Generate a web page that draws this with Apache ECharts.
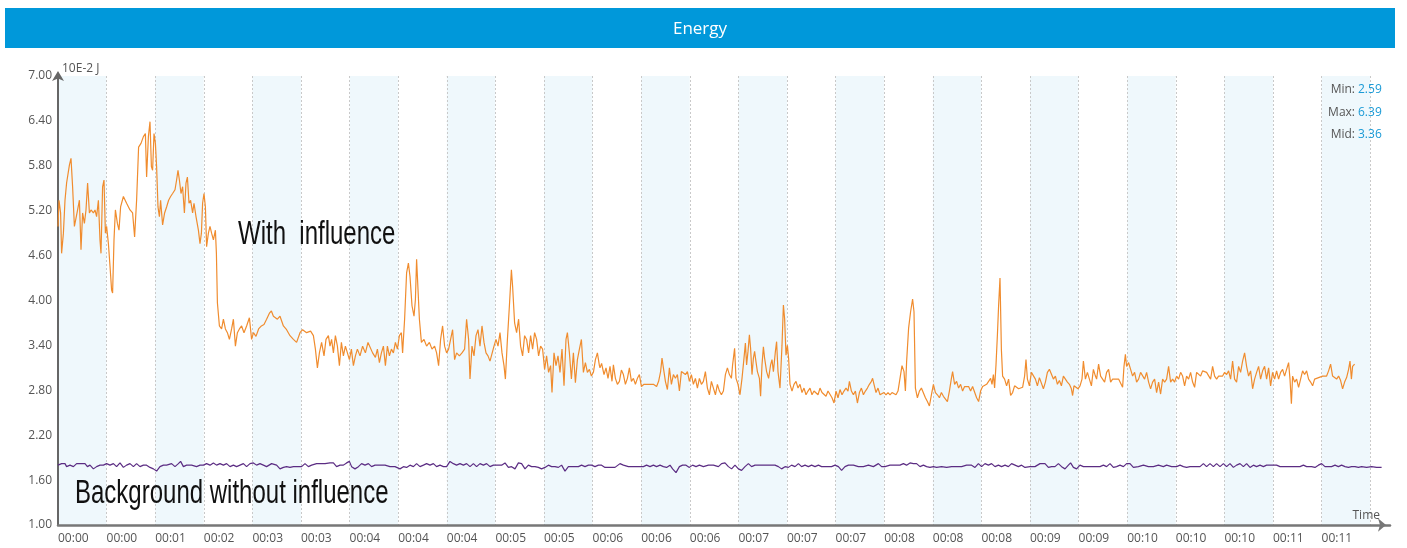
<!DOCTYPE html>
<html>
<head>
<meta charset="utf-8">
<title>Energy</title>
<script src="https://cdn.jsdelivr.net/npm/echarts@6/dist/echarts.min.js"></script>
<style>
  html, body { margin: 0; padding: 0; background: #fff; }
  #chart { width: 1407px; height: 548px; }
</style>
</head>
<body>
<div id="chart"></div>
<script>
// x = seconds from start, one label per band
const timeLabels = ['00:00', '00:00', '00:01', '00:02', '00:03', '00:03', '00:04', '00:04', '00:04',
  '00:05', '00:05', '00:06', '00:06', '00:06', '00:07', '00:07', '00:07', '00:08', '00:08', '00:08',
  '00:09', '00:09', '00:10', '00:10', '00:10', '00:11', '00:11']
const yTicks = [1.0, 1.6, 2.2, 2.8, 3.4, 4.0, 4.6, 5.2, 5.8, 6.4, 7.0]
const statNames = ['Min:', 'Max:', 'Mid:']
const statValues = ['2.59', '6.39', '3.36']

// energy with influence, [seconds, 10E-2 J]
const withInfluence = [
  [0, 4.99], [0.5, 5.34], [1.3, 5.17], [1.8, 4.63], [2.7, 4.90], [3.5, 5.34], [4.3, 5.57], [5.7, 5.81],
  [6.5, 5.90], [7.3, 5.52], [8.2, 4.99], [9.0, 5.01], [9.8, 5.21], [10.7, 5.34], [11.5, 4.68], [12.3, 5.17],
  [13.2, 5.03], [14.0, 5.21], [14.8, 5.57], [15.7, 5.17], [16.5, 5.21], [17.7, 5.17], [18.5, 5.21], [19.3, 5.12],
  [20.2, 5.34], [21.0, 4.81], [21.5, 4.63], [22.3, 5.52], [23.0, 5.61], [23.7, 4.90], [24.3, 4.99], [25.2, 4.76],
  [26.0, 4.46], [26.8, 4.14], [27.3, 4.10], [28.0, 4.81], [28.7, 5.21], [29.7, 5.03], [30.5, 4.94], [31.3, 5.25],
  [32.7, 5.39], [34.3, 5.30], [36.0, 5.21], [37.3, 5.17], [38.3, 4.85], [39.3, 5.34], [40.3, 6.05], [41.5, 6.10],
  [42.7, 6.19], [43.7, 6.23], [44.3, 5.65], [45.2, 6.19], [46.0, 6.39], [46.7, 5.79], [47.3, 5.74], [48.0, 6.23],
  [48.7, 6.10], [49.3, 5.79], [50.0, 5.25], [50.7, 5.12], [51.3, 5.34], [52.3, 5.01], [53.3, 5.17], [54.3, 5.25],
  [55.3, 5.34], [56.3, 5.39], [57.3, 5.43], [58.5, 5.48], [59.3, 5.61], [60.0, 5.74], [60.7, 5.61], [61.5, 5.43],
  [62.3, 5.52], [63.2, 5.17], [64.0, 5.57], [64.7, 5.65], [65.5, 5.30], [66.3, 5.34], [67.3, 5.17], [68.0, 5.30],
  [69.0, 5.12], [70.2, 4.94], [71.0, 4.76], [71.7, 4.90], [72.3, 5.30], [73.0, 5.43], [73.7, 5.25], [74.3, 4.72],
  [75.2, 4.90], [76.0, 4.99], [76.8, 4.90], [77.7, 4.81], [78.7, 4.94], [79.2, 4.63], [79.7, 3.97], [80.7, 3.66],
  [81.8, 3.62], [82.7, 3.75], [83.7, 3.62], [84.7, 3.57], [85.7, 3.48], [86.8, 3.62], [87.7, 3.75], [88.7, 3.39],
  [89.7, 3.57], [90.7, 3.62], [91.8, 3.66], [93.0, 3.57], [94.3, 3.66], [95.7, 3.77], [96.8, 3.48], [97.7, 3.57],
  [99.0, 3.52], [100.3, 3.62], [101.7, 3.66], [103.0, 3.68], [104.3, 3.75], [105.7, 3.83], [106.7, 3.86], [107.7, 3.79],
  [108.7, 3.81], [109.7, 3.75], [111.0, 3.79], [112.7, 3.66], [114.3, 3.61], [116.0, 3.53], [117.7, 3.48], [119.3, 3.44],
  [121.0, 3.57], [122.3, 3.61], [124.3, 3.57], [126.3, 3.59], [127.7, 3.53], [128.7, 3.35], [129.7, 3.10], [130.7, 3.30],
  [131.8, 3.44], [133.0, 3.26], [134.0, 3.48], [135.2, 3.53], [136.0, 3.39], [136.8, 3.48], [137.7, 3.30], [138.7, 3.53],
  [139.7, 3.39], [140.7, 3.13], [141.7, 3.44], [142.7, 3.26], [143.7, 3.39], [144.7, 3.30], [145.7, 3.21], [146.7, 3.35],
  [147.7, 3.13], [148.7, 3.26], [149.7, 3.35], [151.0, 3.26], [152.3, 3.39], [153.7, 3.30], [155.0, 3.44], [156.0, 3.46],
  [157.3, 3.30], [158.7, 3.24], [159.7, 3.35], [160.7, 3.17], [161.7, 3.30], [162.7, 3.39], [163.7, 3.13], [164.7, 3.39],
  [165.7, 3.26], [166.7, 3.35], [167.7, 3.30], [168.7, 3.44], [169.7, 3.35], [170.7, 3.53], [171.7, 3.57], [172.3, 3.30],
  [173.3, 3.75], [174.3, 4.37], [175.2, 4.50], [176.0, 4.32], [177.0, 3.93], [178.0, 3.79], [178.7, 4.01], [179.3, 4.55],
  [180.0, 4.15], [180.7, 3.75], [181.7, 3.44], [183.0, 3.48], [184.3, 3.39], [185.7, 3.44], [187.0, 3.35], [188.3, 3.39],
  [189.3, 3.30], [190.3, 3.13], [191.3, 3.48], [192.3, 3.66], [193.3, 3.39], [194.3, 3.30], [195.3, 3.35], [196.3, 3.48],
  [197.3, 3.61], [198.3, 3.21], [199.3, 3.30], [200.7, 3.26], [202.0, 3.30], [203.3, 3.35], [204.3, 3.75], [205.3, 3.48],
  [206.0, 2.95], [207.0, 3.39], [208.0, 3.26], [209.0, 3.53], [210.0, 3.61], [211.0, 3.39], [212.0, 3.66], [213.0, 3.44],
  [214.0, 3.30], [215.0, 3.26], [216.0, 3.19], [217.0, 3.21], [218.0, 3.39], [219.0, 3.48], [220.0, 3.39], [221.0, 3.57],
  [222.0, 3.30], [223.0, 3.13], [223.7, 2.95], [224.7, 3.48], [225.7, 3.93], [226.7, 4.41], [227.3, 4.19], [228.3, 3.70],
  [229.3, 3.57], [230.3, 3.75], [231.3, 3.39], [232.3, 3.26], [233.3, 3.53], [234.3, 3.48], [235.3, 3.30], [236.3, 3.53],
  [237.3, 3.35], [238.3, 3.57], [239.3, 3.48], [240.3, 3.26], [241.3, 3.39], [242.3, 3.35], [243.3, 3.08], [244.3, 3.26],
  [245.3, 3.04], [246.3, 3.13], [247.0, 2.77], [248.0, 3.30], [249.0, 3.13], [250.0, 3.26], [251.0, 3.04], [252.0, 3.35],
  [253.0, 2.86], [254.0, 3.48], [254.7, 3.57], [255.7, 3.30], [256.7, 2.95], [257.7, 3.30], [258.7, 2.90], [259.7, 3.21],
  [260.7, 3.35], [261.7, 3.48], [262.7, 3.04], [263.7, 3.17], [264.7, 3.04], [265.7, 3.08], [266.7, 2.99], [267.7, 3.04],
  [268.7, 3.21], [269.7, 3.30], [270.7, 3.13], [271.0, 3.10], [271.8, 3.16], [273.0, 3.01], [274.0, 3.10], [275.0, 2.96],
  [276.0, 3.12], [277.0, 2.92], [277.7, 3.14], [278.7, 2.96], [279.7, 2.88], [280.7, 2.92], [281.7, 3.07], [282.7, 3.01],
  [283.7, 2.88], [284.7, 2.96], [285.7, 3.10], [286.7, 2.92], [287.7, 2.96], [288.7, 2.88], [289.7, 2.96], [290.7, 3.01],
  [291.7, 2.85], [293.0, 2.88], [294.3, 2.88], [296.0, 2.88], [297.7, 2.88], [299.3, 2.85], [300.3, 2.92], [301.3, 3.05],
  [302.0, 3.23], [302.7, 3.10], [303.7, 2.92], [304.7, 2.81], [305.7, 3.10], [306.7, 2.88], [307.7, 3.01], [308.7, 2.96],
  [309.7, 3.01], [310.7, 2.79], [311.7, 3.05], [312.7, 3.07], [313.7, 3.01], [314.7, 3.05], [315.7, 2.92], [316.7, 3.01],
  [317.7, 2.88], [318.7, 2.96], [319.7, 2.83], [320.7, 2.96], [321.7, 2.88], [322.7, 2.92], [323.7, 3.05], [324.7, 2.83],
  [325.7, 2.74], [326.7, 2.92], [327.7, 2.83], [328.7, 2.74], [329.7, 2.88], [330.7, 2.79], [331.7, 2.74], [332.7, 2.79],
  [333.7, 3.01], [334.7, 3.10], [335.7, 3.01], [336.7, 2.96], [337.3, 3.14], [338.3, 3.36], [339.0, 2.96], [340.0, 2.88],
  [341.0, 2.74], [342.0, 2.96], [343.0, 3.23], [343.7, 3.43], [344.3, 3.14], [345.0, 3.32], [345.7, 3.54], [346.3, 3.36],
  [347.0, 3.01], [347.7, 3.23], [348.3, 3.32], [349.0, 3.18], [349.7, 3.05], [350.7, 2.96], [351.3, 2.72], [352.0, 3.14],
  [352.7, 3.38], [353.3, 3.23], [354.3, 3.05], [355.3, 2.96], [356.3, 3.14], [357.0, 3.21], [357.7, 3.05], [358.7, 3.32],
  [359.3, 3.45], [360.0, 3.05], [361.0, 2.83], [362.0, 3.40], [362.7, 3.94], [363.3, 3.76], [364.0, 3.27], [364.7, 3.40],
  [365.3, 3.23], [366.0, 2.88], [367.0, 2.79], [368.0, 2.88], [369.0, 2.92], [370.0, 2.83], [371.0, 2.88], [372.0, 2.77],
  [373.0, 2.83], [374.0, 2.74], [375.0, 2.79], [376.0, 2.83], [377.0, 2.74], [378.0, 2.79], [379.0, 2.81], [380.0, 2.74],
  [381.0, 2.83], [382.0, 2.77], [383.0, 2.79], [384.0, 2.72], [385.0, 2.79], [386.0, 2.77], [387.0, 2.70], [388.0, 2.63],
  [389.0, 2.79], [390.0, 2.70], [391.0, 2.81], [392.0, 2.74], [393.0, 2.79], [394.0, 2.83], [395.0, 2.79], [395.7, 2.92],
  [396.7, 2.79], [397.7, 2.74], [398.7, 2.79], [399.7, 2.63], [400.7, 2.77], [401.7, 2.83], [402.7, 2.74], [403.7, 2.79],
  [404.7, 2.83], [405.7, 2.88], [406.7, 2.92], [407.3, 2.96], [408.0, 2.88], [409.0, 2.77], [410.0, 2.83], [411.0, 2.74],
  [412.0, 2.72], [413.0, 2.77], [414.0, 2.74], [415.0, 2.77], [416.0, 2.74], [417.0, 2.77], [418.0, 2.79], [419.0, 2.74],
  [420.0, 2.79], [421.0, 2.96], [422.0, 3.13], [423.0, 3.05], [423.7, 2.79], [424.3, 3.18], [425.3, 3.63], [426.3, 3.85],
  [427.3, 4.02], [428.0, 3.85], [428.7, 2.83], [429.7, 2.70], [430.7, 2.79], [431.7, 2.83], [432.7, 2.81], [433.7, 2.70],
  [434.7, 2.65], [435.7, 2.59], [436.7, 2.74], [437.7, 2.88], [438.7, 2.77], [439.7, 2.74], [440.7, 2.70], [441.7, 2.77],
  [442.7, 2.72], [443.7, 2.74], [444.7, 2.65], [445.7, 2.79], [446.7, 2.96], [447.3, 3.05], [448.3, 2.88], [449.3, 2.92],
  [450.3, 2.83], [451.3, 2.88], [452.3, 2.79], [453.3, 2.85], [454.3, 2.83], [455.3, 2.85], [456.3, 2.79], [457.3, 2.85],
  [458.3, 2.83], [459.3, 2.70], [460.3, 2.65], [461.3, 2.79], [462.3, 2.85], [463.3, 2.83], [464.3, 2.88], [465.3, 2.92],
  [466.3, 2.96], [467.0, 2.88], [467.7, 3.01], [468.3, 2.83], [469.0, 3.14], [469.7, 3.54], [470.3, 3.93], [471.0, 4.30],
  [471.7, 3.34], [472.3, 2.99], [473.3, 2.95], [474.3, 2.86], [475.3, 2.95], [476.3, 2.73], [477.3, 2.77], [478.3, 2.86],
  [479.3, 2.88], [480.3, 2.82], [481.3, 2.84], [482.3, 2.84], [483.3, 2.99], [484.0, 3.21], [484.7, 2.95], [485.7, 2.86],
  [486.7, 3.04], [487.7, 3.06], [488.7, 2.95], [489.7, 2.86], [490.7, 2.97], [491.7, 2.95], [492.7, 2.82], [493.7, 2.91],
  [494.7, 3.04], [495.7, 3.08], [496.7, 3.06], [497.7, 2.95], [498.7, 2.99], [499.7, 2.88], [500.7, 2.93], [501.7, 2.86],
  [502.7, 2.99], [503.7, 2.95], [504.7, 2.91], [505.7, 2.88], [506.7, 2.82], [507.3, 2.73], [508.0, 2.86], [509.0, 2.88],
  [510.0, 2.82], [511.0, 2.86], [512.0, 2.95], [512.7, 3.19], [513.7, 2.95], [514.7, 3.04], [515.7, 2.95], [516.7, 2.86],
  [517.7, 3.08], [518.7, 2.99], [519.3, 2.95], [520.3, 3.15], [521.3, 2.99], [522.3, 2.95], [523.3, 2.91], [524.3, 3.04],
  [525.3, 3.08], [526.3, 2.91], [527.3, 2.95], [528.3, 2.95], [530.3, 2.95], [531.3, 2.93], [532.3, 2.84], [533.0, 3.12],
  [533.7, 3.28], [534.3, 3.12], [535.3, 3.17], [536.3, 3.08], [537.3, 2.99], [538.3, 3.04], [539.3, 2.91], [540.3, 2.95],
  [541.3, 3.04], [542.3, 3.06], [543.3, 2.95], [544.3, 3.04], [545.3, 2.91], [546.3, 2.82], [547.3, 2.91], [548.3, 2.95],
  [549.3, 2.77], [550.3, 2.91], [551.3, 2.75], [552.3, 2.95], [553.3, 2.91], [554.3, 2.95], [555.3, 3.12], [556.3, 2.91],
  [557.3, 2.95], [558.3, 2.91], [559.3, 2.99], [560.3, 2.95], [561.3, 3.04], [562.3, 2.99], [563.3, 2.86], [564.3, 2.99],
  [565.3, 2.95], [566.3, 3.04], [567.3, 2.91], [568.3, 2.84], [569.3, 3.04], [570.3, 3.06], [571.3, 2.99], [572.3, 3.06],
  [573.3, 3.06], [574.3, 3.04], [575.3, 3.06], [576.3, 2.95], [577.3, 3.12], [578.3, 2.99], [579.3, 2.95], [580.3, 2.99],
  [581.3, 2.97], [582.3, 2.99], [583.3, 3.04], [584.3, 3.01], [585.3, 3.06], [586.3, 2.95], [587.3, 3.19], [588.3, 2.95],
  [589.3, 2.91], [590.3, 3.12], [591.3, 3.04], [592.3, 3.19], [593.3, 3.30], [594.3, 3.12], [595.3, 2.99], [596.3, 3.06],
  [597.3, 2.82], [598.3, 2.95], [599.3, 3.04], [600.3, 3.12], [601.3, 2.95], [602.3, 3.06], [603.3, 3.12], [604.3, 2.95],
  [605.3, 3.10], [606.3, 2.86], [607.3, 3.04], [608.3, 2.95], [609.3, 3.06], [610.3, 2.95], [611.3, 3.04], [612.3, 3.08],
  [613.3, 2.99], [614.3, 2.99], [615.3, 3.17], [616.0, 2.95], [616.7, 2.62], [617.3, 2.99], [618.3, 2.91], [619.3, 2.95],
  [620.3, 2.84], [621.3, 2.95], [622.3, 3.06], [623.3, 3.01], [624.3, 3.06], [625.3, 2.95], [626.3, 2.91], [627.3, 2.86],
  [628.3, 2.95], [629.3, 2.97], [630.3, 2.97], [631.3, 2.99], [632.3, 2.99], [633.3, 3.01], [634.3, 2.99], [635.3, 3.06],
  [636.3, 3.15], [637.3, 2.99], [638.3, 2.97], [639.3, 2.95], [640.3, 2.99], [641.3, 2.93], [642.3, 2.82], [643.3, 2.91],
  [644.3, 2.97], [645.3, 3.08], [646.0, 3.19], [646.7, 2.95], [647.3, 3.12], [648.3, 3.15]
]

// background without influence, [seconds, 10E-2 J]
const background = [
  [0, 1.80], [1.8, 1.82], [3.5, 1.82], [4.3, 1.78], [6.0, 1.80], [7.7, 1.78], [9.3, 1.82], [11.8, 1.82],
  [13.5, 1.82], [14.7, 1.78], [16.0, 1.80], [17.7, 1.75], [19.3, 1.78], [21.0, 1.80], [22.7, 1.80], [24.3, 1.82],
  [26.0, 1.80], [27.7, 1.82], [29.3, 1.78], [31.0, 1.83], [32.7, 1.77], [34.3, 1.80], [36.0, 1.82], [37.7, 1.78],
  [39.3, 1.82], [41.0, 1.78], [42.7, 1.80], [44.3, 1.80], [46.0, 1.77], [47.7, 1.75], [49.3, 1.72], [51.0, 1.78],
  [52.7, 1.80], [54.3, 1.80], [56.8, 1.82], [58.5, 1.78], [60.2, 1.82], [61.3, 1.85], [62.7, 1.78], [64.3, 1.80],
  [66.8, 1.80], [69.3, 1.78], [71.0, 1.80], [72.7, 1.80], [74.3, 1.82], [76.0, 1.80], [77.7, 1.83], [79.3, 1.80],
  [81.0, 1.82], [82.7, 1.80], [84.3, 1.82], [86.0, 1.78], [87.7, 1.80], [89.3, 1.78], [91.0, 1.80], [92.7, 1.82],
  [94.3, 1.78], [96.0, 1.82], [97.7, 1.83], [99.3, 1.80], [101.0, 1.82], [102.7, 1.80], [104.3, 1.78], [106.8, 1.82],
  [109.3, 1.80], [111.0, 1.75], [112.7, 1.77], [114.3, 1.78], [116.0, 1.77], [117.7, 1.78], [119.3, 1.78], [121.8, 1.78],
  [123.5, 1.82], [125.2, 1.78], [126.8, 1.80], [129.3, 1.82], [131.0, 1.82], [133.5, 1.82], [136.0, 1.83], [137.7, 1.83],
  [139.3, 1.78], [141.0, 1.80], [142.7, 1.80], [144.3, 1.83], [145.7, 1.85], [146.8, 1.78], [148.5, 1.75], [150.2, 1.78],
  [151.8, 1.82], [153.5, 1.80], [155.2, 1.82], [156.8, 1.78], [158.5, 1.80], [161.0, 1.80], [163.5, 1.80], [166.0, 1.78],
  [168.5, 1.78], [171.0, 1.75], [172.7, 1.78], [174.3, 1.77], [176.0, 1.80], [177.7, 1.78], [179.3, 1.82], [181.0, 1.78],
  [182.7, 1.80], [184.3, 1.82], [186.0, 1.80], [187.7, 1.82], [189.3, 1.78], [191.0, 1.80], [192.7, 1.78], [194.3, 1.78],
  [196.0, 1.85], [197.7, 1.82], [199.3, 1.80], [201.0, 1.82], [202.7, 1.80], [204.3, 1.82], [206.0, 1.78], [207.7, 1.82],
  [209.3, 1.78], [211.0, 1.82], [212.7, 1.80], [214.3, 1.82], [216.0, 1.78], [217.7, 1.80], [219.3, 1.80], [221.8, 1.80],
  [223.5, 1.83], [225.2, 1.77], [226.8, 1.78], [228.5, 1.75], [230.2, 1.83], [231.8, 1.82], [233.5, 1.75], [235.2, 1.80],
  [236.8, 1.78], [238.5, 1.78], [240.2, 1.77], [241.8, 1.75], [243.5, 1.77], [245.2, 1.80], [246.8, 1.78], [248.5, 1.78],
  [250.2, 1.77], [251.8, 1.80], [253.5, 1.72], [255.2, 1.78], [256.8, 1.78], [258.5, 1.78], [260.2, 1.78], [261.8, 1.80],
  [263.5, 1.78], [265.2, 1.80], [266.8, 1.80], [268.5, 1.78], [270.2, 1.80], [271.8, 1.80], [273.5, 1.77], [276.0, 1.77],
  [278.5, 1.77], [281.0, 1.82], [282.7, 1.80], [285.2, 1.78], [287.7, 1.78], [290.2, 1.78], [292.7, 1.78], [294.3, 1.80],
  [296.0, 1.78], [297.7, 1.80], [299.3, 1.78], [301.0, 1.80], [302.7, 1.78], [304.3, 1.77], [306.0, 1.80], [307.3, 1.75],
  [309.0, 1.70], [310.7, 1.78], [312.3, 1.80], [314.0, 1.80], [315.7, 1.77], [317.3, 1.80], [319.0, 1.78], [320.7, 1.80],
  [322.7, 1.78], [325.2, 1.80], [327.7, 1.80], [330.2, 1.78], [331.8, 1.82], [333.5, 1.83], [335.2, 1.78], [336.8, 1.75],
  [338.5, 1.80], [340.2, 1.75], [341.8, 1.73], [343.5, 1.78], [345.2, 1.82], [346.8, 1.78], [348.5, 1.80], [351.0, 1.80],
  [353.5, 1.80], [356.0, 1.80], [358.5, 1.80], [360.2, 1.78], [361.8, 1.75], [363.5, 1.78], [365.2, 1.77], [366.8, 1.80],
  [368.5, 1.78], [370.2, 1.82], [371.8, 1.78], [373.5, 1.80], [375.2, 1.78], [376.8, 1.80], [378.5, 1.78], [380.2, 1.80],
  [381.8, 1.78], [384.3, 1.78], [386.8, 1.78], [388.5, 1.80], [390.2, 1.78], [391.8, 1.73], [393.5, 1.78], [395.2, 1.80],
  [397.7, 1.80], [400.2, 1.78], [402.7, 1.78], [405.2, 1.80], [407.7, 1.78], [410.2, 1.82], [411.8, 1.78], [413.5, 1.78],
  [416.0, 1.80], [418.5, 1.80], [421.0, 1.80], [422.7, 1.82], [424.3, 1.80], [426.0, 1.83], [427.7, 1.82], [429.3, 1.82],
  [431.0, 1.78], [432.7, 1.80], [434.3, 1.78], [436.0, 1.77], [437.7, 1.78], [439.3, 1.77], [441.8, 1.78], [444.3, 1.77],
  [446.8, 1.78], [449.3, 1.78], [451.8, 1.78], [454.3, 1.80], [456.8, 1.80], [458.5, 1.77], [460.2, 1.82], [461.8, 1.78],
  [463.5, 1.82], [465.2, 1.80], [466.8, 1.82], [468.5, 1.78], [470.2, 1.80], [471.8, 1.78], [473.5, 1.80], [475.2, 1.78],
  [476.8, 1.82], [478.5, 1.80], [480.2, 1.78], [481.8, 1.80], [483.5, 1.77], [486.0, 1.78], [488.5, 1.78], [491.0, 1.82],
  [493.5, 1.82], [495.2, 1.77], [496.8, 1.78], [498.5, 1.78], [500.2, 1.82], [501.8, 1.78], [503.5, 1.75], [505.2, 1.80],
  [506.3, 1.83], [507.7, 1.77], [509.3, 1.75], [511.0, 1.80], [512.7, 1.78], [514.3, 1.78], [516.0, 1.78], [517.7, 1.78],
  [519.3, 1.78], [521.0, 1.78], [522.7, 1.80], [524.3, 1.78], [526.0, 1.82], [527.7, 1.77], [529.3, 1.78], [531.0, 1.80],
  [532.7, 1.78], [534.3, 1.82], [536.0, 1.82], [537.7, 1.77], [540.2, 1.78], [542.7, 1.80], [545.2, 1.78], [547.7, 1.78],
  [550.2, 1.80], [552.7, 1.78], [554.3, 1.80], [556.8, 1.78], [559.3, 1.78], [561.0, 1.80], [562.7, 1.78], [564.3, 1.77],
  [566.0, 1.78], [568.5, 1.78], [571.0, 1.78], [572.7, 1.82], [574.3, 1.78], [576.0, 1.82], [577.7, 1.78], [579.3, 1.82],
  [581.0, 1.78], [582.7, 1.82], [584.3, 1.78], [586.0, 1.82], [587.7, 1.77], [589.3, 1.80], [591.0, 1.82], [592.7, 1.78],
  [594.3, 1.82], [596.0, 1.77], [597.7, 1.80], [599.3, 1.78], [601.0, 1.80], [602.7, 1.78], [604.3, 1.80], [606.8, 1.80],
  [609.3, 1.80], [611.0, 1.78], [612.7, 1.78], [614.3, 1.78], [616.8, 1.78], [619.3, 1.78], [621.0, 1.78], [622.7, 1.80],
  [624.3, 1.78], [626.8, 1.78], [628.5, 1.77], [630.2, 1.80], [631.8, 1.82], [633.5, 1.78], [635.2, 1.78], [636.8, 1.78],
  [638.5, 1.80], [640.2, 1.78], [641.8, 1.80], [643.5, 1.78], [645.2, 1.77], [646.8, 1.78], [648.5, 1.78], [650.2, 1.77],
  [651.8, 1.78], [654.3, 1.77], [656.8, 1.78], [659.3, 1.77], [661.8, 1.77]
]

const bandSeconds = 24.3
const chart = echarts.init(document.getElementById('chart'))

const statText = []
statNames.forEach((name, i) => {
  statText.push({
    type: 'text', x: 1355, y: 90 + i * 22.5, z: 20,
    style: { text: name, fill: '#555', fontSize: 12, fontFamily: 'Open Sans', align: 'right', verticalAlign: 'middle' }
  })
  statText.push({
    type: 'text', x: 1358, y: 90 + i * 22.5, z: 20,
    style: { text: statValues[i], fill: '#1a9ad6', fontSize: 12, fontFamily: 'Open Sans', align: 'left', verticalAlign: 'middle' }
  })
})

const option = {
  animation: false,
  backgroundColor: '#fff',
  grid: { left: 58, right: 17, top: 76, bottom: 23, containLabel: false },
  xAxis: {
    type: 'value',
    min: 0,
    max: 666,
    interval: bandSeconds,
    name: 'Time',
    nameLocation: 'end',
    nameGap: -10,
    nameTextStyle: { color: '#555', fontSize: 12, fontFamily: 'Open Sans', align: 'right', verticalAlign: 'bottom', padding: [0, 0, 3, 0] },
    axisLine: { show: true, symbol: ['none', 'arrow'], symbolSize: [10, 8], symbolOffset: [0, -4], lineStyle: { color: '#777', width: 2.5 } },
    axisTick: { show: false },
    axisLabel: {
      color: '#555', fontSize: 12, fontFamily: 'Open Sans', align: 'left', margin: 8,
      showMaxLabel: false,
      formatter: (v) => {
        const i = Math.round(v / bandSeconds)
        return Math.abs(v - i * bandSeconds) < 0.01 && i < timeLabels.length ? timeLabels[i] : ''
      }
    },
    splitLine: { show: true, showMaxLine: false, lineStyle: { color: '#c9c9c9', type: [2, 2], width: 1 } },
    splitArea: { show: true, areaStyle: { color: ['#eff8fc', '#ffffff'] } }
  },
  yAxis: {
    type: 'value',
    min: yTicks[0],
    max: yTicks[yTicks.length - 1],
    interval: 0.6,
    name: '10E-2 J',
    nameLocation: 'end',
    nameGap: 1,
    nameTextStyle: { color: '#555', fontSize: 12, fontFamily: 'Open Sans', align: 'left', padding: [0, 0, 0, 4] },
    axisLine: { show: true, symbol: ['none', 'arrow'], symbolSize: [9, 10], symbolOffset: [0, 5], lineStyle: { color: '#666', width: 2 } },
    axisTick: { show: false },
    axisLabel: { color: '#555', fontSize: 12, fontFamily: 'Open Sans', margin: 6, formatter: (v) => v.toFixed(2) },
    splitLine: { show: true, lineStyle: { color: '#c9c9c9', type: [2, 2], width: 1 } }
  },
  graphic: [
    { type: 'rect', shape: { x: 5, y: 8, width: 1390, height: 40 }, style: { fill: '#0098da' }, z: 10 },
    { type: 'text', x: 700, y: 29, z: 11, style: { text: 'Energy', fill: '#fff', fontSize: 17, fontFamily: 'Open Sans', align: 'center', verticalAlign: 'middle' } },
    { type: 'text', x: 238, y: 235, scaleY: 1.35, z: 11, style: { text: 'With  influence', fill: '#111', fontSize: 24, fontFamily: 'Liberation Sans', align: 'left', verticalAlign: 'middle' } },
    { type: 'text', x: 75, y: 494, scaleY: 1.35, z: 11, style: { text: 'Background without influence', fill: '#111', fontSize: 24, fontFamily: 'Liberation Sans', align: 'left', verticalAlign: 'middle' } },
    ...statText
  ],
  series: [
    {
      name: 'With influence',
      type: 'line',
      data: withInfluence,
      showSymbol: false,
      symbol: 'none',
      lineStyle: { color: '#f08c2e', width: 1.2 },
      z: 3
    },
    {
      name: 'Background without influence',
      type: 'line',
      data: background,
      showSymbol: false,
      symbol: 'none',
      lineStyle: { color: '#5b2c83', width: 1.2 },
      z: 3
    }
  ]
}

chart.setOption(option)
window.addEventListener('resize', () => chart.resize())
</script>
</body>
</html>
